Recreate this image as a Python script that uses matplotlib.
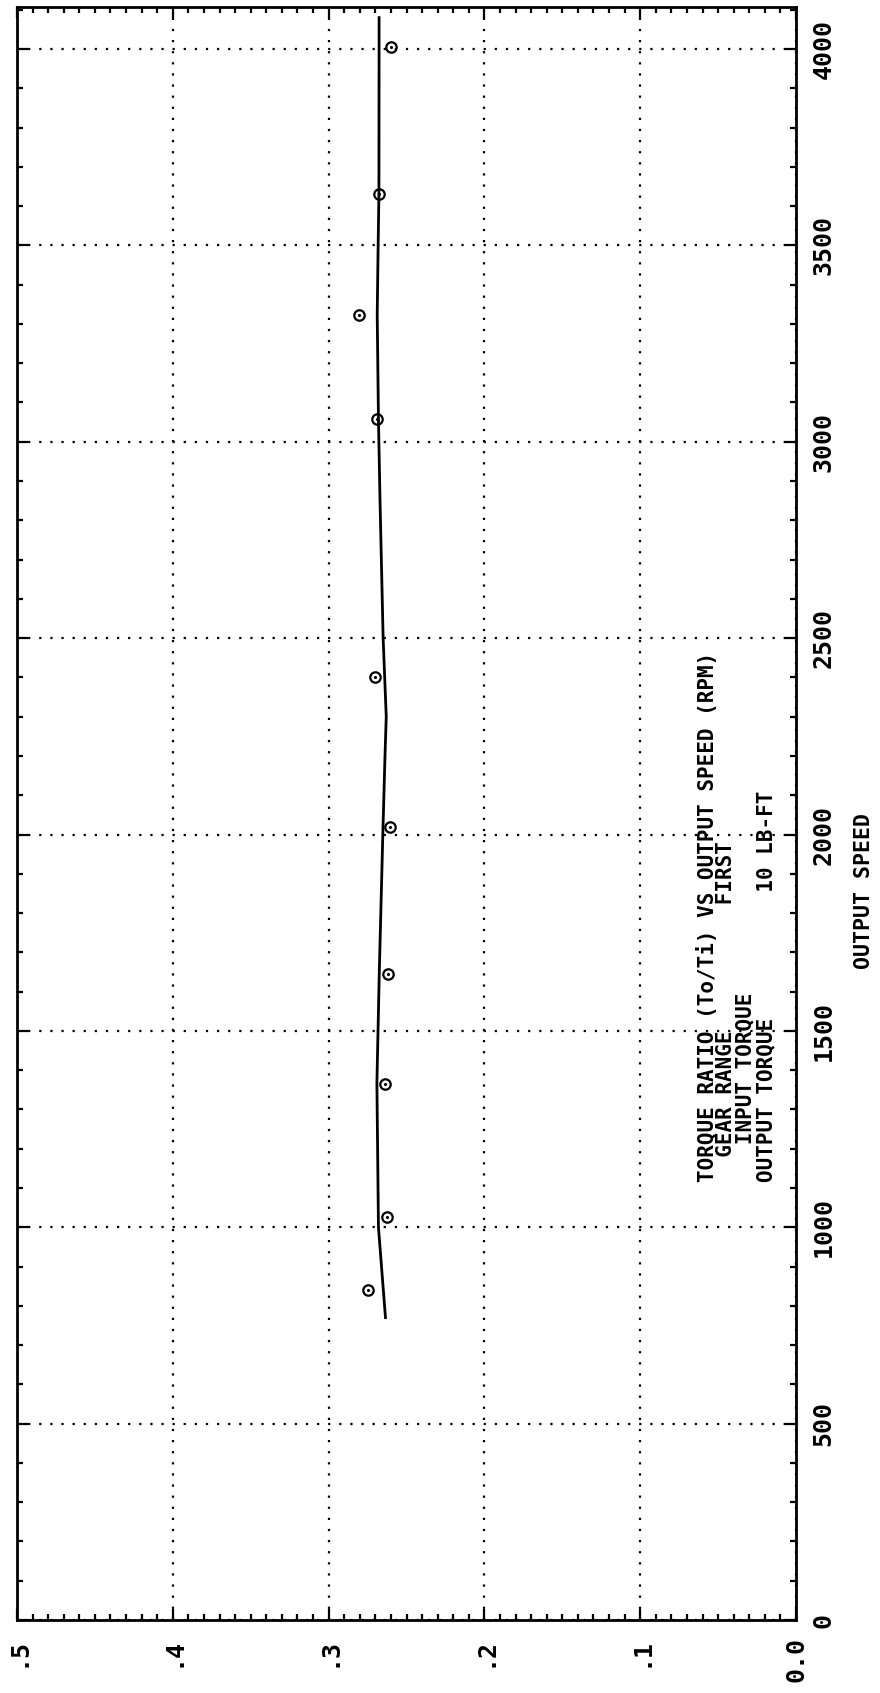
import numpy as np
import matplotlib
matplotlib.use('Agg')
import matplotlib.pyplot as plt
from matplotlib.ticker import MultipleLocator

# measured points (output speed rpm, torque ratio)
speed = [840, 1026, 1366, 1644, 2019, 2400, 3058, 3323, 3631, 4005]
ratio = [0.2745, 0.2627, 0.2638, 0.2619, 0.2606, 0.2705, 0.2690, 0.2805, 0.2675, 0.2600]

# fitted curve as drawn
fit_speed = [770, 1000, 1366, 1644, 2000, 2200, 2300, 2500, 2850, 3058, 3323, 3500, 3631, 4000, 4080]
fit_ratio = [0.2635, 0.2680, 0.2690, 0.2675, 0.2652, 0.2638, 0.2630, 0.2650, 0.2670,
             0.2680, 0.2688, 0.2682, 0.2677, 0.2676, 0.2676]

ratio_ticks = [0.5, 0.4, 0.3, 0.2, 0.1, 0.0]
ratio_labels = ['.5', '.4', '.3', '.2', '.1', '0.0']
speed_ticks = [0, 500, 1000, 1500, 2000, 2500, 3000, 3500, 4000]
speed_labels = ['0', '500', '1000', '1500', '2000', '2500', '3000', '3500', '4000']

title_lines = ['TORQUE RATIO (To/Ti) VS OUTPUT SPEED (RPM)',
               '  GEAR RANGE          FIRST',
               '   INPUT TORQUE',
               'OUTPUT TORQUE          10 LB-FT']

mono = 'DejaVu Sans Mono'

fig = plt.figure(figsize=(8.8, 16.93), dpi=100)
ax = fig.add_axes([17/880, 73/1693, 779/880, 1613/1693])

ax.plot(fit_ratio, fit_speed, color='black', lw=2)
ax.plot(ratio, speed, 'o', ms=7.5, mfc='none', mec='black', mew=1.6)
ax.plot(ratio, speed, '.', ms=2.5, color='black')

ax.set_xlim(0.5, 0.0)
ax.set_ylim(0, 4107)

ax.set_xticks(ratio_ticks)
ax.set_xticklabels(ratio_labels, rotation=90, family=mono, weight='bold', fontsize=18)
ax.set_yticks(speed_ticks)
ax.set_yticklabels(speed_labels, rotation=90, family=mono, weight='bold', fontsize=18,
                   va='center')
ax.xaxis.set_minor_locator(MultipleLocator(0.01))
ax.yaxis.set_minor_locator(MultipleLocator(100))
ax.yaxis.tick_right()
ax.tick_params(which='both', direction='in', top=True, bottom=True, left=True, right=True,
               width=1.6, color='black')
ax.tick_params(which='major', length=8, pad=11)
ax.tick_params(which='minor', length=4)
ax.tick_params(axis='x', which='major', pad=12)

for s in ax.spines.values():
    s.set_linewidth(2)

ax.grid(True, which='major', color='black', lw=1.6, linestyle=(0, (1, 4)))

# title block, rotated
col_x = [0.8858, 0.9101, 0.9345, 0.9615]
for tx, line in zip(col_x, title_lines):
    ax.text(tx, 0.2716, line, transform=ax.transAxes, rotation=90, ha='center', va='bottom',
            family=mono, weight='bold', fontsize=15)

ax.text(1.087, 0.452, 'OUTPUT SPEED', transform=ax.transAxes, rotation=90,
        ha='center', va='center', family=mono, weight='bold', fontsize=15.5)

fig.savefig('out.png', dpi=100)
